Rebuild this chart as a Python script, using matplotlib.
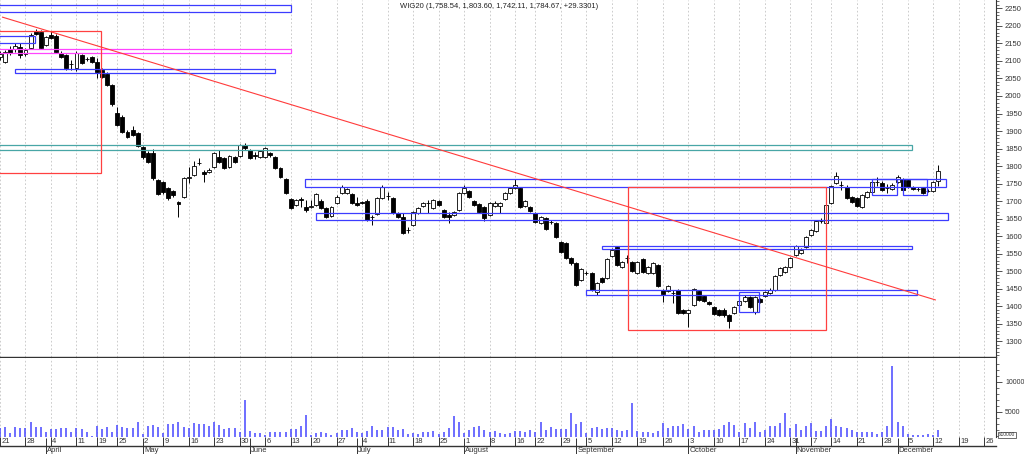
import numpy as np
import matplotlib
matplotlib.use('Agg')
import matplotlib.pyplot as plt
from matplotlib.patches import Rectangle
from matplotlib import transforms
from matplotlib.ticker import MultipleLocator

plt.rcParams['font.family'] = ['Liberation Sans', 'DejaVu Sans']

title = "WIG20 (1,758.54, 1,803.60, 1,742.11, 1,784.67, +29.3301)"

# daily candles, 21 Mar - 13 Dec (trading days only)
opens = [2112, 2098, 2134, 2134, 2140, 2120, 2136, 2185, 2182, 2145,
         2174, 2171, 2123, 2117, 2090, 2080, 2117, 2107, 2111, 2097,
         2074, 2063, 2031, 1952, 1940, 1897, 1903, 1894, 1854, 1837,
         1837, 1760, 1754, 1737, 1729, 1697, 1712, 1766, 1774, 1808,
         1783, 1784, 1797, 1826, 1823, 1797, 1826, 1829, 1860, 1846,
         1832, 1826, 1826, 1837, 1826, 1794, 1763, 1706, 1689, 1706,
         1684, 1684, 1689, 1701, 1680, 1657, 1694, 1723, 1723, 1720,
         1695, 1696, 1701, 1654, 1663, 1709, 1714, 1709, 1666, 1655,
         1617, 1632, 1666, 1686, 1695, 1680, 1700, 1675, 1660, 1660,
         1675, 1723, 1729, 1700, 1692, 1683, 1660, 1686, 1686, 1706,
         1723, 1737, 1737, 1686, 1683, 1666, 1637, 1652, 1641, 1637,
         1583, 1580, 1538, 1523, 1475, 1495, 1495, 1441, 1481, 1481,
         1543, 1569, 1512, 1537, 1526, 1495, 1535, 1495, 1495, 1518,
         1446, 1443, 1438, 1446, 1389, 1381, 1404, 1443, 1429, 1412,
         1398, 1389, 1389, 1375, 1381, 1404, 1415, 1426, 1384, 1421,
         1429, 1438, 1446, 1489, 1498, 1512, 1546, 1552, 1569, 1603,
         1615, 1643, 1637, 1695, 1752, 1746, 1740, 1712, 1709, 1683,
         1712, 1726, 1754, 1752, 1737, 1734, 1754, 1763, 1760, 1740,
         1735, 1737, 1729, 1729, 1758.54]
highs = [2128, 2131, 2142, 2151, 2151, 2136, 2180, 2191, 2188, 2172,
         2185, 2176, 2128, 2120, 2103, 2128, 2120, 2111, 2114, 2108,
         2080, 2068, 2034, 1970, 1945, 1903, 1914, 1897, 1857, 1843,
         1848, 1763, 1757, 1740, 1732, 1700, 1769, 1797, 1814, 1822,
         1788, 1794, 1840, 1845, 1826, 1831, 1829, 1863, 1866, 1849,
         1840, 1846, 1854, 1840, 1829, 1797, 1766, 1709, 1706, 1711,
         1703, 1703, 1723, 1706, 1683, 1686, 1717, 1746, 1737, 1723,
         1713, 1700, 1706, 1660, 1712, 1746, 1727, 1712, 1669, 1666,
         1626, 1672, 1683, 1697, 1703, 1706, 1703, 1677, 1669, 1672,
         1726, 1746, 1732, 1703, 1695, 1686, 1697, 1700, 1697, 1726,
         1740, 1763, 1740, 1703, 1686, 1669, 1657, 1655, 1646, 1640,
         1586, 1583, 1540, 1526, 1509, 1500, 1498, 1469, 1483, 1538,
         1566, 1572, 1529, 1546, 1529, 1529, 1538, 1515, 1526, 1520,
         1449, 1461, 1446, 1449, 1392, 1392, 1452, 1446, 1432, 1415,
         1401, 1392, 1395, 1378, 1401, 1418, 1432, 1429, 1429, 1424,
         1443, 1452, 1489, 1512, 1515, 1540, 1575, 1566, 1600, 1620,
         1646, 1652, 1692, 1746, 1783, 1757, 1746, 1715, 1712, 1720,
         1729, 1757, 1769, 1757, 1749, 1752, 1774, 1766, 1763, 1743,
         1740, 1740, 1734, 1757, 1803.60]
lows = [2102, 2094, 2117, 2125, 2108, 2114, 2133, 2174, 2134, 2142,
        2162, 2122, 2108, 2074, 2074, 2071, 2091, 2100, 2094, 2051,
        2050, 2028, 1972, 1914, 1894, 1880, 1885, 1854, 1820, 1808,
        1760, 1717, 1720, 1703, 1712, 1655, 1709, 1752, 1771, 1803,
        1754, 1780, 1794, 1808, 1791, 1794, 1808, 1826, 1846, 1820,
        1820, 1823, 1823, 1826, 1791, 1766, 1720, 1677, 1686, 1683,
        1670, 1680, 1686, 1677, 1652, 1654, 1691, 1720, 1720, 1691,
        1686, 1691, 1643, 1632, 1660, 1706, 1703, 1663, 1652, 1606,
        1609, 1629, 1663, 1683, 1666, 1677, 1686, 1652, 1637, 1657,
        1672, 1720, 1709, 1686, 1666, 1643, 1657, 1683, 1666, 1703,
        1720, 1734, 1680, 1683, 1669, 1637, 1634, 1617, 1634, 1595,
        1552, 1535, 1518, 1458, 1472, 1490, 1443, 1432, 1466, 1478,
        1540, 1515, 1509, 1523, 1498, 1492, 1495, 1492, 1492, 1455,
        1412, 1440, 1409, 1378, 1378, 1341, 1401, 1415, 1412, 1404,
        1375, 1372, 1369, 1338, 1378, 1401, 1412, 1395, 1378, 1409,
        1426, 1435, 1443, 1486, 1495, 1509, 1543, 1549, 1566, 1600,
        1612, 1637, 1635, 1692, 1749, 1732, 1706, 1694, 1683, 1680,
        1709, 1723, 1743, 1729, 1723, 1731, 1752, 1729, 1737, 1731,
        1729, 1720, 1726, 1726, 1742.11]
closes = [2121, 2126, 2122, 2142, 2117, 2131, 2174, 2177, 2137, 2168,
          2165, 2125, 2112, 2080, 2092, 2122, 2094, 2105, 2097, 2068,
          2054, 2031, 1976, 1917, 1897, 1883, 1888, 1857, 1825, 1811,
          1766, 1720, 1726, 1709, 1717, 1692, 1766, 1770, 1800, 1808,
          1777, 1788, 1837, 1811, 1794, 1829, 1811, 1860, 1851, 1823,
          1829, 1843, 1851, 1832, 1794, 1769, 1723, 1680, 1703, 1703,
          1675, 1686, 1720, 1679, 1654, 1683, 1713, 1740, 1734, 1694,
          1689, 1694, 1646, 1655, 1709, 1740, 1715, 1666, 1655, 1609,
          1618, 1669, 1680, 1694, 1694, 1703, 1689, 1655, 1655, 1669,
          1723, 1737, 1712, 1689, 1669, 1652, 1694, 1694, 1694, 1723,
          1737, 1746, 1683, 1700, 1672, 1640, 1655, 1620, 1640, 1597,
          1555, 1538, 1523, 1461, 1506, 1494, 1446, 1466, 1469, 1535,
          1560, 1518, 1526, 1538, 1500, 1526, 1498, 1512, 1523, 1458,
          1435, 1458, 1437, 1381, 1381, 1389, 1449, 1418, 1415, 1406,
          1378, 1375, 1375, 1358, 1398, 1415, 1426, 1398, 1426, 1412,
          1440, 1446, 1486, 1509, 1512, 1538, 1572, 1560, 1598, 1617,
          1643, 1644, 1689, 1743, 1772, 1745, 1709, 1697, 1686, 1717,
          1726, 1754, 1755, 1731, 1738, 1746, 1769, 1731, 1740, 1734,
          1734, 1723, 1729, 1755, 1784.67]
volumes = [2400, 2440, 1560, 2440, 2280, 2280, 3280, 2440, 2440, 1610,
           2110, 2110, 2280, 2330, 1720, 2280, 2110, 1610, 1060, 2670,
           2170, 2440, 1720, 2830, 2440, 2280, 2280, 3280, 1390, 2720,
           2830, 2440, 1500, 2940, 2940, 3390, 2440, 2280, 3110, 3000,
           3000, 2670, 3280, 2830, 2110, 2280, 2330, 1720, 7000, 1890,
           1440, 1440, 1170, 1720, 1720, 1720, 1610, 2110, 2110, 2670,
           4500, 1170, 1560, 1610, 1440, 1170, 1560, 2000, 2000, 2280,
           1720, 1440, 1890, 2670, 2000, 2000, 2560, 2560, 2000, 2110,
           1280, 1560, 1280, 1610, 1610, 1830, 1330, 1720, 2280, 4330,
           3390, 1440, 2000, 2440, 2670, 2000, 1720, 1830, 1440, 1330,
           1440, 1890, 1890, 1610, 2000, 1610, 3280, 2000, 2440, 2110,
           2110, 2110, 4780, 3000, 3390, 1560, 2280, 2440, 2110, 2280,
           2280, 2000, 1890, 2000, 6560, 1830, 1720, 1720, 1440, 1830,
           3220, 2280, 2670, 2720, 3000, 2170, 2670, 1720, 2000, 2000,
           2000, 2110, 2830, 3390, 2830, 1670, 3110, 2280, 3280, 1720,
           2000, 2670, 2670, 3110, 4780, 2390, 3000, 2000, 2670, 3110,
           1890, 1890, 2670, 3830, 2670, 2560, 2280, 2000, 1720, 1720,
           1720, 1720, 1330, 1720, 2670, 12670, 3390, 2670, 1330, 1170,
           1170, 1170, 1330, 1170, 2000]

week_idx = [0, 5, 10, 15, 19, 23, 28, 32, 37, 42, 47, 52, 57, 61, 66,
            71, 76, 81, 86, 91, 96, 101, 105, 110, 115, 120, 125, 130,
            135, 140, 145, 150, 155, 159, 163, 168, 173, 178, 183, 188, 193]
week_labels = ['21', '28', '4', '11', '19', '25', '2', '9', '16', '23',
               '30', '6', '13', '20', '27', '4', '11', '18', '25', '1',
               '8', '16', '22', '29', '5', '12', '19', '26', '3', '10',
               '17', '24', '31', '7', '14', '21', '28', '5', '12', '19', '26']
month_idx = [9, 28, 49, 70, 91, 113, 135, 156, 176]
month_labels = ['April', 'May', 'June', 'July', 'August', 'September',
                'October', 'November', 'December']

# objects drawn on the chart: (start, end, low, high, colour)
boxes = [
    (-2, 57.0, 2240, 2259, '#3c3cff'),
    (-2, 6.9, 2152, 2171, '#3c3cff'),
    (-2, 57.0, 2122, 2133, '#ff44ff'),
    (2.9, 54.0, 2067, 2077, '#3c3cff'),
    (-2, 178.8, 1846, 1861, '#48a6a6'),
    (-2, 19.9, 1780, 2185, '#ff4040'),
    (59.8, 185.4, 1740, 1762, '#3c3cff'),
    (62.0, 185.9, 1645, 1665, '#3c3cff'),
    (118.1, 178.8, 1563, 1573, '#3c3cff'),
    (114.9, 179.9, 1431, 1446, '#3c3cff'),
    (144.9, 148.8, 1383, 1440, '#3c3cff'),
    (123.1, 161.9, 1332, 1739, '#ff4040'),
    (171.0, 175.9, 1717, 1763, '#3c3cff'),
    (177.0, 181.8, 1717, 1763, '#3c3cff'),
]
trend_x = [0.5, 183.4]
trend_y = [2225, 1418]

W, H = 1024, 454


def style_right(ax, size=5.5):
    for s in ['left', 'top']:
        ax.spines[s].set_visible(False)
    ax.spines['right'].set_color('#333333')
    ax.spines['right'].set_linewidth(0.8)
    ax.spines['bottom'].set_color('#333333')
    ax.spines['bottom'].set_linewidth(1.0)
    ax.yaxis.tick_right()
    ax.tick_params(axis='y', which='major', length=4, width=0.6,
                   labelsize=size, colors='#333333', pad=2.5)
    ax.tick_params(axis='y', which='minor', length=2, width=0.5,
                   colors='#333333')


def plot():
    fig = plt.figure(figsize=(W / 100, H / 100), dpi=100)
    ax = fig.add_axes([0, 1 - 357 / H, 996 / W, 357 / H])
    axv = fig.add_axes([0, 1 - 446 / H, 996 / W, 88 / H], sharex=ax)

    x = np.arange(len(closes))
    o = np.array(opens)
    c = np.array(closes)
    up = c >= o
    bottom = np.minimum(o, c)
    height = np.maximum(np.abs(c - o), 0.8)

    grid = dict(color='#c4c4c4', lw=0.6, ls=(0, (2, 2.5)))
    for w in week_idx:
        ax.axvline(w, zorder=0, **grid)

    ax.vlines(x, lows, highs, color='black', lw=0.7, zorder=2)
    ax.bar(x[up], height[up], bottom=bottom[up], width=0.78,
           color='white', edgecolor='black', linewidth=0.6, zorder=3)
    ax.bar(x[~up], height[~up], bottom=bottom[~up], width=0.78,
           color='black', edgecolor='black', linewidth=0.6, zorder=3)

    for x0, x1, lo, hi, col in boxes:
        ax.add_patch(Rectangle((x0, lo), x1 - x0, hi - lo, fill=False,
                               edgecolor=col, lw=0.9, zorder=4))
    ax.plot(trend_x, trend_y, color='#ff3b3b', lw=0.8, zorder=4)

    ax.set_xlim(0.5, 195.3)
    ax.set_ylim(1255, 2274)
    ax.set_yticks(np.arange(1300, 2251, 50))
    ax.yaxis.set_minor_locator(MultipleLocator(10))
    style_right(ax)
    ax.tick_params(axis='x', which='both', bottom=False, labelbottom=False)

    # volume panel
    vol_base = 830
    axv.vlines(week_idx, vol_base, 14000, zorder=0, **grid)
    axv.vlines(x, vol_base, volumes, color='#4747ff', lw=1.1, zorder=2)
    axv.set_ylim(-670, 14000)
    axv.set_yticks([5000, 10000])
    style_right(axv, size=5.0)
    axv.spines['right'].set_bounds(vol_base, 14000)
    axv.set_yticks(list(range(1000, 14000, 1000)), minor=True)

    axv.set_xticks(month_idx)
    axv.set_xticks(week_idx, minor=True)
    axv.tick_params(axis='x', which='major', direction='inout', length=11,
                    width=0.7, colors='#333333', labelbottom=False)
    axv.tick_params(axis='x', which='minor', direction='in', length=6.5,
                    width=0.7, colors='#333333', labelbottom=False)

    trans = transforms.blended_transform_factory(axv.transData, axv.transAxes)
    for w, lab in zip(week_idx, week_labels):
        axv.text(w + 0.25, 0.055, lab, transform=trans, fontsize=5.5,
                 ha='left', va='center', color='#333333', clip_on=False)
    for m, lab in zip(month_idx, month_labels):
        axv.text(m + 0.25, -0.05, lab, transform=trans, fontsize=5.5,
                 ha='left', va='center', color='#333333', clip_on=False)

    fig.text(999 / W, 1 - 435 / H, 'x10000', fontsize=3.5, color='#333333',
             ha='left', va='center',
             bbox=dict(boxstyle='square,pad=0.15', fc='white',
                       ec='#333333', lw=0.5))
    fig.text(0.487, 1 - 6.5 / H, title, fontsize=5.5, ha='center',
             va='center', color='#222222')

    fig.savefig('out.png', dpi=100)


if __name__ == '__main__':
    plot()
